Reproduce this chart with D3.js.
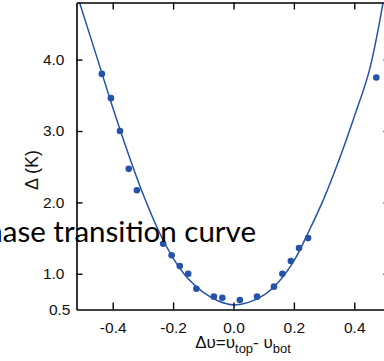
<!DOCTYPE html>
<html><head><meta charset="utf-8">
<script src="https://cdn.jsdelivr.net/npm/d3@7/dist/d3.min.js"></script>
<style>
html,body{margin:0;padding:0;background:#fff;overflow:hidden;}
svg{display:block;}
</style></head>
<body>
<svg id="c" width="384" height="361"></svg>
<script>
// ---- data ----
const dataX = [-0.436,-0.406,-0.376,-0.347,-0.320,-0.233,-0.205,-0.178,-0.150,-0.123,-0.065,-0.037,0.021,0.078,0.134,0.162,0.190,0.217,0.247,0.473];
const dataY = [3.80,3.46,3.00,2.47,2.17,1.42,1.26,1.11,1.00,0.79,0.68,0.665,0.633,0.68,0.82,1.00,1.18,1.36,1.50,3.75];
const fitX = [-0.51,-0.45,-0.40,-0.35,-0.30,-0.25,-0.20,-0.15,-0.10,-0.05,0.00,0.05,0.10,0.15,0.20,0.25,0.30,0.35,0.40,0.45,0.495];
const fitY = [4.80,4.00,3.33,2.70,2.12,1.62,1.22,0.93,0.74,0.62,0.565,0.60,0.70,0.89,1.18,1.60,2.06,2.60,3.20,3.85,4.79];
const xTicks = [-0.4,-0.2,0.0,0.2,0.4];
const xTickLabels = ["-0.4","-0.2","0.0","0.2","0.4"];
const yTicks = [4.0,3.0,2.0,1.0];
const yTickLabels = ["4.0","3.0","2.0","1.0"];
const yMinLabel = "0.5";
const overlayText = "phase transition curve";

const blue = "#2553aa";
const svg = d3.select("#c");
const x = d3.scaleLinear().domain([-0.52,0.52]).range([76.5,390.5]);
const y = d3.scaleLinear().domain([0.5,4.8]).range([309.5,2.5]);

const plot = svg.append("g");
svg.append("clipPath").attr("id","clip").append("rect")
  .attr("x",x(-0.52)).attr("y",y(4.8)).attr("width",x(0.52)-x(-0.52)).attr("height",y(0.5)-y(4.8));

const tickLen = 7;
const axB = d3.axisBottom(x).tickValues(xTicks).tickFormat((d,i)=>xTickLabels[i]).tickSizeInner(-tickLen).tickSizeOuter(0).tickPadding(12);
const axT = d3.axisTop(x).tickValues(xTicks).tickFormat("").tickSizeInner(-tickLen).tickSizeOuter(0);
const axL = d3.axisLeft(y).tickValues(yTicks).tickFormat((d,i)=>yTickLabels[i]).tickSizeInner(-6).tickSizeOuter(0).tickPadding(12);
const axR = d3.axisRight(y).tickValues(yTicks).tickFormat("").tickSizeInner(-7).tickSizeOuter(0);

function style(g){
  g.select(".domain").attr("stroke","#000").attr("stroke-width",1.6);
  g.selectAll(".tick line").attr("stroke","#000").attr("stroke-width",1.4);
  g.selectAll(".tick text").attr("fill","#111").style("font-family","'Liberation Sans', Arial, sans-serif").style("font-size","15.5px");
}
svg.append("g").attr("transform",`translate(0,${y(0.5)})`).call(axB).call(style);
svg.append("g").attr("transform",`translate(0,${y(4.8)})`).call(axT).call(style);
svg.append("g").attr("transform",`translate(${x(-0.52)},0)`).call(axL).call(style);
svg.append("g").attr("transform",`translate(${x(0.52)},0)`).call(axR).call(style);

svg.append("text").attr("x",x(-0.52)-6).attr("y",y(0.5)).attr("dy","0.35em")
  .attr("text-anchor","end").attr("fill","#111")
  .style("font-family","'Liberation Sans', Arial, sans-serif").style("font-size","15.5px").text(yMinLabel);

const fit = fitX.map((v,i)=>[v,fitY[i]]);
plot.append("path").datum(fit).attr("clip-path","url(#clip)")
  .attr("fill","none").attr("stroke",blue).attr("stroke-width",1.5)
  .attr("d",d3.line().x(d=>x(d[0])).y(d=>y(d[1])).curve(d3.curveCatmullRom));

plot.selectAll("circle.pt").data(dataX.map((v,i)=>[v,dataY[i]])).join("circle")
  .attr("class","pt").attr("cx",d=>x(d[0])).attr("cy",d=>y(d[1])).attr("r",3.3).attr("fill",blue);

svg.append("text").attr("transform","translate(38,170) rotate(-90)")
  .attr("text-anchor","middle").attr("fill","#111")
  .style("font-family","'Liberation Sans', Arial, sans-serif").style("font-size","18px").text("Δ (K)");

const xl = svg.append("text").attr("x",243).attr("y",348).attr("text-anchor","middle").attr("fill","#111")
  .style("font-family","'Liberation Sans', Arial, sans-serif").style("font-size","17px");
xl.append("tspan").text("Δυ=υ");
xl.append("tspan").attr("dy",5).style("font-size","13px").text("top");
xl.append("tspan").attr("dy",-5).text("- υ");
xl.append("tspan").attr("dy",5).style("font-size","13px").text("bot");

svg.append("text").attr("x",256).attr("y",242).attr("text-anchor","end").attr("fill","#000")
  .style("font-family","Lato, 'Open Sans', sans-serif").style("font-size","29.5px").text(overlayText);
</script>
</body></html>
